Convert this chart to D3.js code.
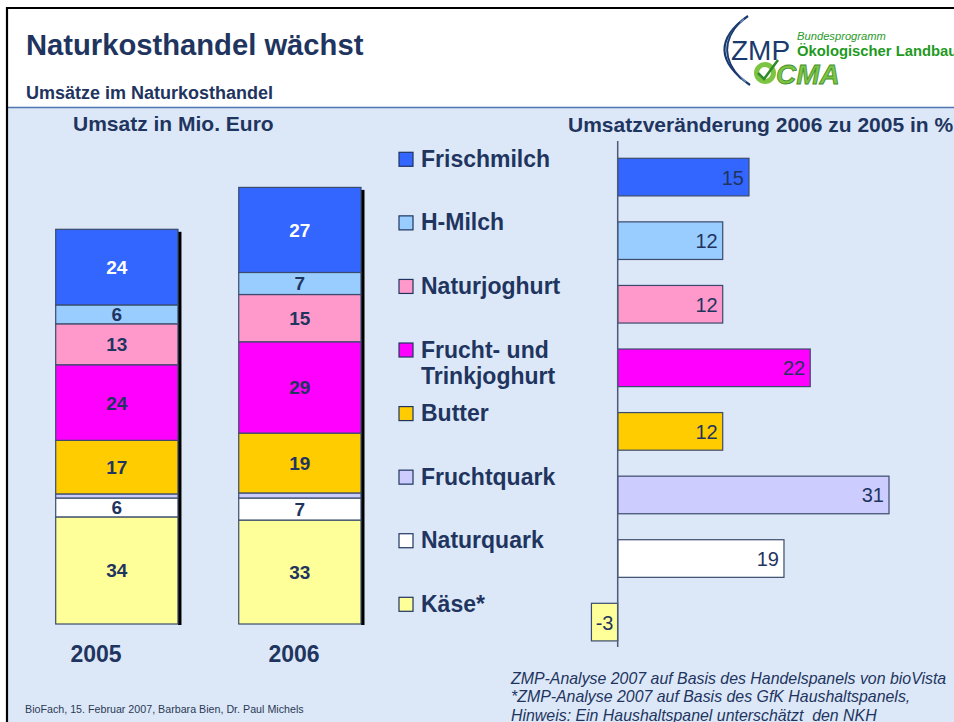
<!DOCTYPE html>
<html><head><meta charset="utf-8">
<script src="https://cdn.jsdelivr.net/npm/d3@7"></script>
<style>
html,body{margin:0;padding:0;background:#fff;}
svg{display:block;font-family:"Liberation Sans",Arial,sans-serif;}
text{white-space:pre;}
</style></head>
<body>
<svg id="c" width="954" height="722"></svg>
<script>
// ---- data ----
const years = ["2005", "2006"];
const categories = ["Frischmilch", "H-Milch", "Naturjoghurt", "Frucht- und Trinkjoghurt", "Butter", "Fruchtquark", "Naturquark", "Käse*"];
const umsatz2005 = [24, 6, 13, 24, 17, 1.3, 6, 34];
const umsatz2006 = [27, 7, 15, 29, 19, 1.6, 7, 33];
const veraenderung = [15, 12, 12, 22, 12, 31, 19, -3];
const palette = ["#3366ff", "#99ccff", "#ff99cc", "#ff00ff", "#ffcc00", "#ccccff", "#ffffff", "#ffff99"];
const footnotes = [
  "ZMP-Analyse 2007 auf Basis des Handelspanels von bioVista",
  "*ZMP-Analyse 2007 auf Basis des GfK Haushaltspanels,",
  "Hinweis: Ein Haushaltspanel unterschätzt  den NKH"
];

const NAVY = "#1f3560";
const svg = d3.select("#c");

// ---- frame / header ----
svg.append("rect").attr("x", 0).attr("y", 0).attr("width", 954).attr("height", 722).attr("fill", "#fff");
svg.append("rect").attr("x", 7).attr("y", 108).attr("width", 947).attr("height", 614).attr("fill", "#dce8f8");
svg.append("line").attr("x1", 7).attr("x2", 954).attr("y1", 107.5).attr("y2", 107.5).attr("stroke", "#4f74b0").attr("stroke-width", 1.5);
svg.append("line").attr("x1", 6).attr("x2", 954).attr("y1", 8).attr("y2", 8).attr("stroke", "#000").attr("stroke-width", 2.2);
svg.append("line").attr("x1", 7).attr("x2", 7).attr("y1", 7).attr("y2", 722).attr("stroke", "#000").attr("stroke-width", 2.2);

svg.append("text").attr("x", 26).attr("y", 55).attr("fill", NAVY)
  .attr("font-size", 29.2).attr("font-weight", "bold").text("Naturkosthandel wächst");
svg.append("text").attr("x", 26).attr("y", 99).attr("fill", NAVY)
  .attr("font-size", 18).attr("font-weight", "bold").text("Umsätze im Naturkosthandel");

// logo
const logo = svg.append("g");
logo.append("path").attr("d", "M748,16 Q700,50 750,85").attr("fill", "none").attr("stroke", "#1a3a6e").attr("stroke-width", 2.2);
logo.append("path").attr("d", "M744,19 Q708,50 746,82").attr("fill", "none").attr("stroke", "#6f8fc0").attr("stroke-width", 1.2);
logo.append("path").attr("d", "M740,22 Q714,50 741,79").attr("fill", "none").attr("stroke", "#1a3a6e").attr("stroke-width", 1.6);
logo.append("text").attr("x", 731).attr("y", 59.5).attr("fill", "#1a3a6e").attr("font-size", 28).text("ZMP");
logo.append("text").attr("x", 797).attr("y", 40).attr("fill", "#2a9a2a").attr("font-size", 11.2).attr("font-style", "italic").text("Bundesprogramm");
logo.append("text").attr("x", 797).attr("y", 56).attr("fill", "#1f9a1f").attr("font-size", 14.8).attr("font-weight", "bold").text("Ökologischer Landbau");
logo.append("circle").attr("cx", 765).attr("cy", 73).attr("r", 8.5).attr("fill", "none").attr("stroke", "#7dc443").attr("stroke-width", 5);
logo.append("path").attr("d", "M758,73 L764,79 L778,60").attr("fill", "none").attr("stroke", "#2f8a2a").attr("stroke-width", 2.5);
logo.append("text").attr("x", 776).attr("y", 84).attr("fill", "#7dc443").attr("stroke", "#3f8f2f").attr("stroke-width", 0.8)
  .attr("font-size", 28).attr("font-weight", "bold").attr("font-style", "italic").text("CMA");

// ---- left: stacked bars ----
svg.append("text").attr("x", 73).attr("y", 131).attr("fill", NAVY).attr("font-size", 21).attr("font-weight", "bold").text("Umsatz in Mio. Euro");

const xBand = d3.scaleBand().domain(years).range([55.7, 361]).paddingInner(0.332);
const yLin = d3.scaleLinear().domain([0, 140]).range([624, 183]);
const rows = years.map((yr, i) => {
  const vals = i === 0 ? umsatz2005 : umsatz2006;
  const o = { year: yr };
  categories.forEach((c, j) => o[c] = vals[j]);
  return o;
});
const stackKeys = categories.slice().reverse();
const series = d3.stack().keys(stackKeys)(rows);

// shadows
years.forEach((yr, i) => {
  const top = d3.max(series, s => s[i][1]);
  svg.append("rect").attr("x", xBand(yr) + xBand.bandwidth()).attr("y", yLin(top) + 2.5)
    .attr("width", 3.5).attr("height", yLin(0) - yLin(top) - 1.5).attr("fill", "#000");
});

const segG = svg.append("g");
series.forEach(s => {
  const ci = categories.indexOf(s.key);
  s.forEach((d, i) => {
    segG.append("rect").attr("x", xBand(years[i])).attr("y", yLin(d[1]))
      .attr("width", xBand.bandwidth()).attr("height", yLin(d[0]) - yLin(d[1]))
      .attr("fill", palette[ci]).attr("stroke", "#3a4b6b").attr("stroke-width", 1.2);
    const v = d[1] - d[0];
    if (v >= 3) {
      segG.append("text").attr("x", xBand(years[i]) + xBand.bandwidth() / 2)
        .attr("y", (yLin(d[0]) + yLin(d[1])) / 2 + 7)
        .attr("text-anchor", "middle").attr("font-size", 19).attr("font-weight", "bold")
        .attr("fill", ci === 0 ? "#ffffff" : NAVY).text(d3.format("d")(Math.round(v)));
    }
  });
});

const yearPos = d3.scalePoint().domain(years).range([96, 294]);
years.forEach(yr => {
  svg.append("text").attr("x", yearPos(yr)).attr("y", 662).attr("text-anchor", "middle")
    .attr("font-size", 23).attr("font-weight", "bold").attr("fill", NAVY).text(yr);
});

// ---- right: change bars ----
svg.append("text").attr("x", 568).attr("y", 132).attr("fill", NAVY).attr("font-size", 21).attr("font-weight", "bold")
  .text("Umsatzveränderung 2006 zu 2005 in %");

const x = d3.scaleLinear().domain([0, 35]).range([617.7, 924]);
const y = d3.scaleBand().domain(categories).range([141, 658.2]).paddingInner(0.4085).paddingOuter(0.272);

const barG = svg.append("g");
categories.forEach((c, i) => {
  const v = veraenderung[i];
  barG.append("rect").attr("x", x(Math.min(0, v))).attr("y", y(c))
    .attr("width", Math.abs(x(v) - x(0))).attr("height", y.bandwidth())
    .attr("fill", palette[i]).attr("stroke", "#3a4b6b").attr("stroke-width", 1.2);
  const t = barG.append("text").attr("y", y(c) + y.bandwidth() / 2 + 7.5)
    .attr("font-size", 20).attr("fill", NAVY).text(v);
  if (v >= 0) t.attr("x", x(v) - 5).attr("text-anchor", "end");
  else t.attr("x", (x(v) + x(0)) / 2).attr("text-anchor", "middle");
});
svg.append("line").attr("x1", x(0)).attr("x2", x(0)).attr("y1", 141).attr("y2", 647)
  .attr("stroke", "#4a5a78").attr("stroke-width", 1.5);

// legend
const legG = svg.append("g");
categories.forEach((c, i) => {
  const by = y(c);
  legG.append("rect").attr("x", 399).attr("y", by - 6).attr("width", 14).attr("height", 14)
    .attr("fill", palette[i]).attr("stroke", "#1f3560").attr("stroke-width", 1.2);
  const lines = c.includes("- und ") ? ["Frucht- und", c.split("- und ")[1]] : [c];
  lines.forEach((ln, k) => {
    legG.append("text").attr("x", 421).attr("y", by + 8.5 + k * 26.5)
      .attr("font-size", 23).attr("font-weight", "bold").attr("fill", NAVY).text(ln);
  });
});

// ---- footer ----
svg.append("text").attr("x", 25).attr("y", 713).attr("font-size", 10.7).attr("fill", "#2b3a55")
  .text("BioFach, 15. Februar 2007, Barbara Bien, Dr. Paul Michels");
footnotes.forEach((f, i) => {
  svg.append("text").attr("x", 511).attr("y", 684 + i * 18.3).attr("font-size", 15.9)
    .attr("font-style", "italic").attr("fill", NAVY).text(f);
});
</script>
</body></html>
